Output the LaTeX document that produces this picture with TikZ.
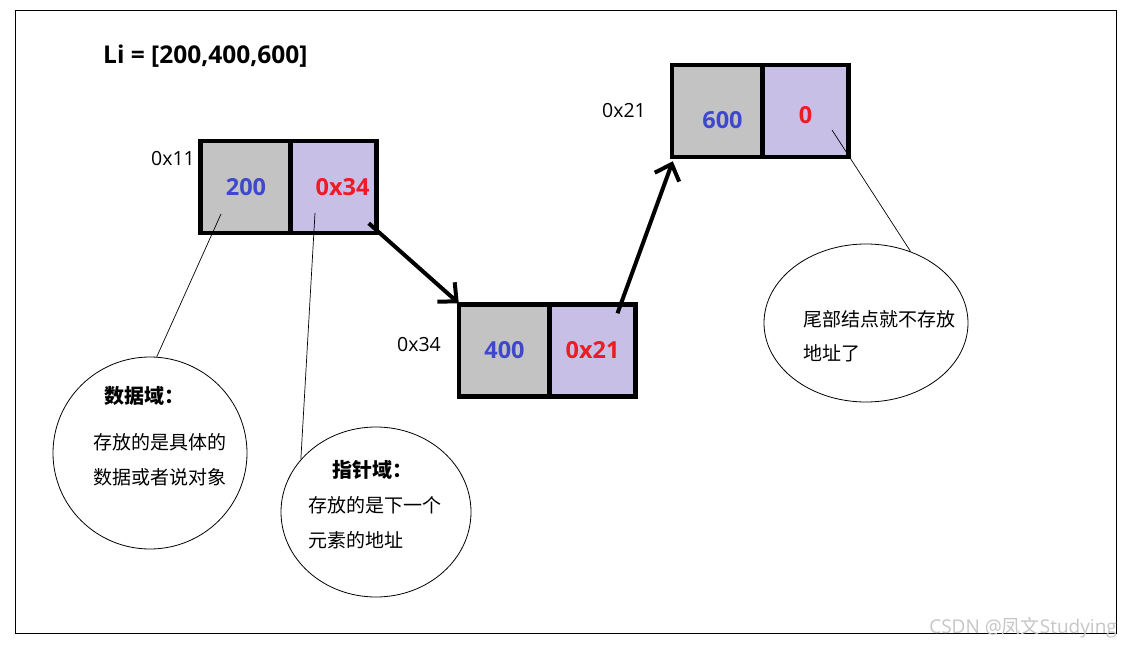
\documentclass[tikz,border=0pt]{standalone}
\usepackage{fontspec}
\setmainfont{Open Sans}
\newfontfamily\cjk{Noto Sans CJK SC}
\usetikzlibrary{shapes.geometric}
\usetikzlibrary{arrows.meta}
\definecolor{paintgray}{HTML}{C3C3C3}
\definecolor{paintlavender}{HTML}{C8BFE7}
\definecolor{paintblue}{HTML}{3F48CC}
\definecolor{paintred}{HTML}{ED1C24}
\tikzset{
  cell/.style = {draw, line width = 4.5pt, minimum height = 92pt, inner sep = 0pt, font = \fontsize{23.5}{23.5}\selectfont\bfseries},
  datacell/.style = {cell, fill = paintgray, text = paintblue, minimum width = 91pt},
  ptrcell/.style = {cell, fill = paintlavender, text = paintred, minimum width = 86pt},
  addr/.style = {inner sep = 0pt, font = \fontsize{19.5}{19.5}\selectfont},
  note/.style = {draw, ellipse, line width = 0.8pt, inner sep = 0pt},
  notetext/.style = {anchor = west, inner sep = 0pt, font = \cjk\fontsize{19}{19}\selectfont},
  link/.style = {line width = 4pt, -{Straight Barb[length = 14pt, width = 26pt]}},
  pin/.style = {line width = 0.7pt},
}

\begin{document}
\begin{tikzpicture}[x = 1pt, y = -1pt]%
    \fill[white] (0, 0) rectangle (1133, 650);
    \draw[line width = 0.8pt] (15, 10) rectangle (1116, 633);

    \node[anchor = west, inner sep = 0pt, font = \fontsize{24.5}{24.5}\selectfont\bfseries] (title) at (103, 56) {Li = [200,400,600]};

    % the three list nodes
    \node[datacell] (d1) at (246, 187) {200};
    \node[ptrcell] (p1) at (333.5, 187) {\hspace{18pt}0x34};
    \node[datacell] (d2) at (504.5, 350.5) {400};
    \node[ptrcell] (p2) at (592.5, 350.5) {0x21};
    \node[datacell] (d3) at (717.5, 111) {\hspace{10pt}\raisebox{-18pt}[0pt][0pt]{600}};
    \node[ptrcell] (p3) at (805.5, 111) {\raisebox{-13pt}[0pt][0pt]{0}};

    \node[addr] (a1) at (173, 159) {0x11};
    \node[addr] (a2) at (419, 345) {0x34};
    \node[addr] (a3) at (624, 111) {0x21};

    \draw[link] ([shift = {(-10, -12)}]p1.south east) -- ([shift = {(2, 1)}]d2.north west);
    \draw[link] ([shift = {(25, 11)}]p2.north) -- ([shift = {(3, 2)}]d3.south west);

    % notes
    \node[note, minimum width = 194pt, minimum height = 192pt] (e1) at (150, 453) {};
    \node[note, minimum width = 190pt, minimum height = 170pt] (e2) at (376, 512) {};
    \node[note, minimum width = 204pt, minimum height = 158pt] (e3) at (866, 323) {};

    \node[notetext, font = \cjk\fontsize{20}{20}\selectfont\bfseries] (h1) at (104, 396) {数据域：};
    \node[notetext] (l11) at (93, 442) {存放的是具体的};
    \node[notetext] (l12) at (93, 477) {数据或者说对象};

    \node[notetext, font = \cjk\fontsize{20}{20}\selectfont\bfseries] (h2) at (332, 470) {指针域：};
    \node[notetext] (l21) at (308, 505) {存放的是下一个};
    \node[notetext] (l22) at (308, 540) {元素的地址};

    \node[notetext] (l31) at (803, 319) {尾部结点就不存放};
    \node[notetext] (l32) at (803, 353) {地址了};

    \coordinate (t1) at (221, 214);
    \coordinate (t2) at (315, 213);
    \coordinate (t3) at (832, 130);
    \draw[pin] (t1) -- (e1.86);
    \draw[pin] (t2) -- (e2.145);
    \draw[pin] (t3) -- (e3.58);

    \node[anchor = east, inner sep = 0pt, text = gray!45, font = \fontsize{19}{19}\selectfont] (mark) at (1117, 628) {CSDN @{\cjk 凤文}Studying};
\end{tikzpicture}
\end{document}
